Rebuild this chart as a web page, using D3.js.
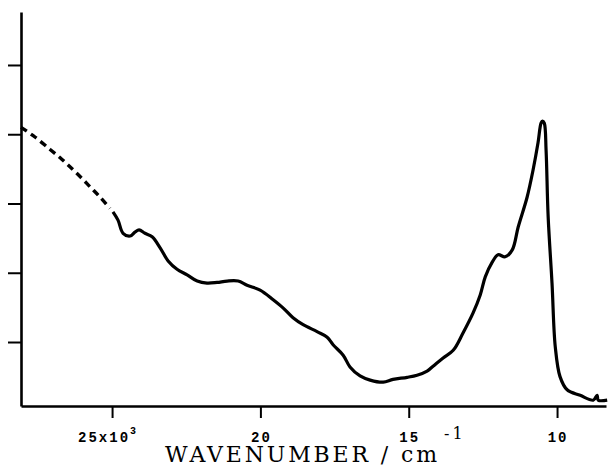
<!DOCTYPE html>
<html>
<head>
<meta charset="utf-8">
<script src="https://cdn.jsdelivr.net/npm/d3@7"></script>
<style>
  body { margin: 0; background: #fff; }
  svg { display: block; }
</style>
</head>
<body>
<div class="canvas"></div>
<script>
const dims = { width: 608, height: 468, left: 21, right: 606, top: 12, bottom: 406 };

// wavenumber in 10^3 cm-1, absorbance in arbitrary units
const dashedWn = [28.07, 27.60, 27.09, 26.75, 26.42, 26.08, 25.74, 25.40, 25.07];
const dashedAbs = [4.10, 3.96, 3.78, 3.66, 3.53, 3.39, 3.24, 3.09, 2.93];

const solidWn = [24.97, 24.80, 24.63, 24.39, 24.22, 24.09, 23.89, 23.65, 23.38, 23.11,
    22.81, 22.47, 22.13, 21.80, 21.46, 21.12, 20.75, 20.45, 20.01, 19.57,
    19.23, 18.90, 18.56, 18.09, 17.75, 17.55, 17.21, 16.98, 16.64, 16.30,
    15.86, 15.53, 15.05, 14.72, 14.38, 14.18, 13.84, 13.50, 13.17, 12.83,
    12.59, 12.42, 12.19, 11.99, 11.75, 11.51, 11.31, 11.01, 10.81, 10.64,
    10.54, 10.49, 10.43, 10.37, 10.30, 10.17, 10.06, 9.90, 9.66, 9.22,
    8.78, 8.65, 8.61, 8.31];
const solidAbs = [2.88, 2.76, 2.57, 2.53, 2.59, 2.62, 2.57, 2.52, 2.36, 2.17,
    2.05, 1.97, 1.88, 1.85, 1.86, 1.88, 1.88, 1.82, 1.75, 1.61,
    1.49, 1.35, 1.25, 1.15, 1.07, 0.96, 0.81, 0.64, 0.51, 0.45,
    0.42, 0.46, 0.49, 0.52, 0.58, 0.65, 0.77, 0.88, 1.13, 1.42,
    1.68, 1.94, 2.15, 2.26, 2.23, 2.33, 2.66, 3.09, 3.48, 3.88,
    4.16, 4.19, 4.16, 3.77, 2.81, 1.85, 0.93, 0.50, 0.31, 0.23,
    0.16, 0.23, 0.16, 0.16];

const xTicks = [25, 20, 15, 10];
const xTickLabels = ['25x10', '20', '15', '10'];
const yTicks = [1, 2, 3, 4, 5];

const svg = d3.select('.canvas')
    .append('svg')
    .attr('width', dims.width)
    .attr('height', dims.height);

const x = d3.scaleLinear()
    .domain([28.07, 8.35])
    .range([dims.left, dims.right]);

const y = d3.scaleLinear()
    .domain([0.076, 5.765])
    .range([dims.bottom, dims.top]);

// axes
const xAxis = svg.append('g')
    .attr('transform', `translate(0, ${dims.bottom})`)
    .call(d3.axisBottom(x).tickValues(xTicks).tickSize(12).tickSizeOuter(0).tickFormat(''));

const yAxis = svg.append('g')
    .attr('transform', `translate(${dims.left}, 0)`)
    .call(d3.axisLeft(y).tickValues(yTicks).tickSize(13).tickSizeOuter(0).tickFormat(''));

[xAxis, yAxis].forEach(a => {
    a.select('.domain').attr('stroke', '#000').attr('stroke-width', 2.6);
    a.selectAll('.tick line').attr('stroke', '#000').attr('stroke-width', 2);
});

// curve
const line = d3.line()
    .x(d => x(d[0]))
    .y(d => y(d[1]))
    .curve(d3.curveCatmullRom.alpha(0.5));

const dashed = d3.zip(dashedWn, dashedAbs);
const solid = d3.zip(solidWn, solidAbs);

svg.append('path')
    .datum(dashed)
    .attr('fill', 'none')
    .attr('stroke', '#000')
    .attr('stroke-width', 3.4)
    .attr('stroke-dasharray', '7 5')
    .attr('d', line);

svg.append('path')
    .datum(solid)
    .attr('fill', 'none')
    .attr('stroke', '#000')
    .attr('stroke-width', 3.2)
    .attr('stroke-linejoin', 'round')
    .attr('d', line);

// tick labels
const labels = svg.append('g')
    .attr('font-family', '"Liberation Mono", "DejaVu Sans Mono", monospace')
    .attr('font-weight', 'bold')
    .attr('font-size', 14)
    .attr('letter-spacing', 2);

labels.selectAll('text')
    .data(xTicks)
    .enter()
    .append('text')
    .attr('x', (d, i) => x(d) + (i === 0 ? -4 : 1))
    .attr('y', 442)
    .attr('text-anchor', 'middle')
    .each(function (d, i) {
        const t = d3.select(this);
        t.append('tspan').text(xTickLabels[i]);
        if (i === 0) {
            t.append('tspan').attr('dy', -8).attr('font-size', 10).text('3');
        }
    });

// axis title
const title = svg.append('text')
    .attr('x', 165)
    .attr('y', 462)
    .attr('font-family', '"DejaVu Serif", "Liberation Serif", serif')
    .attr('font-size', 22);

title.append('tspan')
    .attr('textLength', 272)
    .attr('lengthAdjust', 'spacing')
    .text('WAVENUMBER / cm');
title.append('tspan')
    .attr('x', 444)
    .attr('dy', -23)
    .attr('font-size', 16)
    .attr('letter-spacing', 3)
    .text('-1');
</script>
</body>
</html>
